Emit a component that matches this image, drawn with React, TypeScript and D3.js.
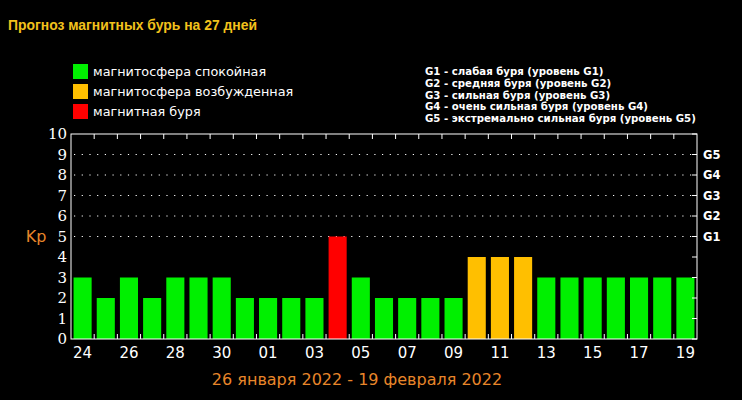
import React from "react";
import * as d3 from "d3";

const days = ["24","25","26","27","28","29","30","31","01","02","03","04","05","06","07","08","09","10","11","12","13","14","15","16","17","18","19"];
const kpValues = [3,2,3,2,3,3,3,2,2,2,2,5,3,2,2,2,2,4,4,4,3,3,3,3,3,3,3];
const yTicks = [0,1,2,3,4,5,6,7,8,9,10];
const gridLevels = [5,6,7,8,9];
const gLabels = ["G1","G2","G3","G4","G5"];
const legendItems = [
  { label: "магнитосфера спокойная", color: "#00f000" },
  { label: "магнитосфера возбужденная", color: "#ffbf00" },
  { label: "магнитная буря", color: "#ff0000" },
];
const gLegend = [
  "G1 - слабая буря (уровень G1)",
  "G2 - средняя буря (уровень G2)",
  "G3 - сильная буря (уровень G3)",
  "G4 - очень сильная буря (уровень G4)",
  "G5 - экстремально сильная буря (уровень G5)",
];
const title = "Прогноз магнитных бурь на 27 дней";
const dateRange = "26 января 2022 - 19 февраля 2022";

function colorFor(v: number) {
  if (v >= 5) return "#ff0000";
  if (v >= 4) return "#ffbf00";
  return "#00f000";
}

export default function App() {
  React.useEffect(() => {
    document.body.style.margin = "0";
    document.body.style.background = "#000";
  }, []);
  const W = 742, H = 400;
  const left = 71, right = 697, top = 134, bottom = 339;
  const x = d3.scaleBand<string>().domain(days).range([left, right]).paddingInner(0.22).paddingOuter(0.11);
  const xs = d3.scaleBand<string>().domain(days).range([left, right]).padding(0);
  const y = d3.scaleLinear().domain([0, 10]).range([bottom, top]);
  const sans = "'DejaVu Sans', Verdana, sans-serif";
  return (
    <svg width={W} height={H} style={{ display: "block", background: "#000" }}>
      <rect x={0} y={0} width={W} height={H} fill="#000" />
      <text x={8} y={30} fill="#f2c21c" fontFamily="'Liberation Sans', Arial, sans-serif" fontWeight="bold" fontSize={13.9}>{title}</text>
      {legendItems.map((d, i) => (
        <g key={i}>
          <rect x={73} y={64 + i * 20} width={15} height={15} fill={d.color} />
          <text x={93} y={76 + i * 20} fill="#fff" fontFamily={sans} fontSize={12.8}>{d.label}</text>
        </g>
      ))}
      {gLegend.map((t, i) => (
        <text key={i} x={425} y={75 + i * 11.8} fill="#fff" fontFamily={sans} fontWeight="bold" fontSize={10.2}>{t}</text>
      ))}
      {gridLevels.map((g) => (
        <line key={g} x1={left + 3} x2={right - 3} y1={y(g)} y2={y(g)} stroke="#fff" strokeWidth={1} strokeDasharray="1.2,6.5" />
      ))}
      {days.map((d, i) => (
        <rect key={d} x={x(d)} y={y(kpValues[i])} width={x.bandwidth()} height={bottom - y(kpValues[i])} fill={colorFor(kpValues[i])} />
      ))}
      <rect x={left} y={top} width={right - left} height={bottom - top} fill="none" stroke="#fff" strokeWidth={1} />
      {days.slice(1).map((d) => (
        <g key={d}>
          <line x1={xs(d)} x2={xs(d)} y1={top} y2={top + 5} stroke="#fff" />
          <line x1={xs(d)} x2={xs(d)} y1={bottom} y2={bottom - 5} stroke="#fff" />
        </g>
      ))}
      {yTicks.map((t) => (
        <g key={t}>
          <line x1={right} x2={right - 5} y1={y(t)} y2={y(t)} stroke="#fff" />
          <text x={67} y={y(t)} dy="0.36em" textAnchor="end" fill="#fff" fontFamily="'DejaVu Serif', serif" fontSize={15}>{t}</text>
        </g>
      ))}
      {gLabels.map((g, i) => (
        <text key={g} x={703} y={y(gridLevels[i])} dy="0.36em" fill="#fff" fontFamily={sans} fontWeight="bold" fontSize={11.5}>{g}</text>
      ))}
      <text x={36} y={y(5)} dy="0.36em" textAnchor="middle" fill="#e8862a" fontFamily={sans} fontSize={16}>Kp</text>
      {days.map((d, i) => i % 2 === 0 ? (
        <text key={d} x={(x(d) as number) + x.bandwidth() / 2} y={358} textAnchor="middle" fill="#fff" fontFamily={sans} fontSize={15}>{d}</text>
      ) : null)}
      <text x={357} y={385} textAnchor="middle" fill="#e8862a" fontFamily={sans} fontSize={16}>{dateRange}</text>
    </svg>
  );
}
